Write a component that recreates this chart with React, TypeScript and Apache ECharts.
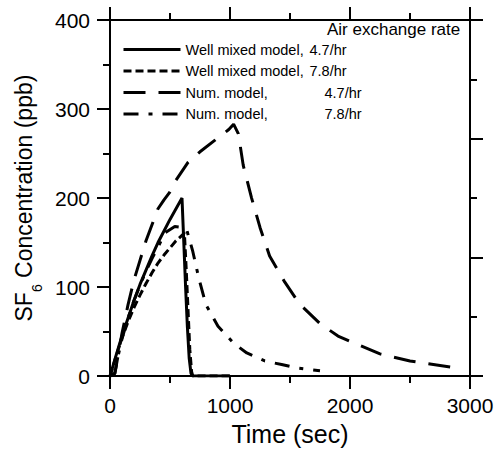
import React, { useEffect, useRef } from "react";
import * as echarts from "echarts";

// Well mixed model, 4.7/hr (solid)
const wm47Time = [0, 50, 100, 150, 200, 250, 300, 350, 400, 450, 500, 550, 600, 615, 630, 645, 660, 675, 690, 1000];
const wm47Conc = [0, 23, 45, 65, 85, 103, 119, 135, 150, 163, 176, 188, 200, 150, 100, 55, 20, 3, 0, 0];

// Well mixed model, 7.8/hr (short dash)
const wm78Time = [0, 50, 100, 150, 200, 250, 300, 350, 400, 450, 500, 550, 600, 620, 635, 650, 665, 680, 690, 1000];
const wm78Conc = [0, 22, 43, 61, 77, 91, 104, 116, 127, 136, 144, 152, 158, 161, 120, 75, 30, 5, 0, 0];

// Num. model, 4.7/hr (long dash)
const num47Time = [0, 40, 70, 100, 150, 200, 250, 300, 350, 400, 450, 500, 550, 650, 750, 875, 990, 1030, 1070, 1110, 1180, 1250, 1330, 1450, 1580, 1750, 1900, 2000, 2250, 2500, 2750, 2900];
const num47Conc = [0, 3, 25, 48, 80, 108, 130, 152, 170, 188, 198, 207, 220, 240, 252, 265, 277, 283, 272, 237, 200, 167, 135, 107, 81, 59, 45, 39, 25, 17, 12, 9];

// Num. model, 7.8/hr (dash-dot)
const num78Time = [0, 40, 70, 100, 150, 200, 250, 300, 350, 400, 460, 540, 600, 640, 690, 740, 800, 900, 1030, 1140, 1290, 1430, 1560, 1750];
const num78Conc = [0, 3, 24, 42, 65, 85, 102, 118, 132, 145, 161, 168, 167, 164, 140, 110, 80, 56, 37, 26, 17, 13, 9, 6];

const seriesNames = [
  "Well mixed model, 4.7/hr",
  "Well mixed model, 7.8/hr",
  "Num. model, 4.7/hr",
  "Num. model, 7.8/hr",
];

const xRange = { min: 0, max: 3000, interval: 1000 };
const yRange = { min: 0, max: 400, interval: 100 };
const rightRange = { min: 0, max: 3, interval: 1 };

const FONT = "'Liberation Sans', Arial, Helvetica, sans-serif";

function pairs(t: number[], c: number[]) {
  return t.map((v, i) => [v, c[i]]);
}

function axisLine() {
  return { show: true, onZero: false, lineStyle: { color: "#000", width: 2 } };
}
function axisTick() {
  return { show: true, inside: false, length: 13, lineStyle: { color: "#000", width: 2 } };
}
function minorTick() {
  return { show: true, splitNumber: 2, length: 7, lineStyle: { color: "#000", width: 2 } };
}

export default function App() {
  const ref = useRef<HTMLDivElement>(null);
  useEffect(() => {
    if (!ref.current) return;
    const chart = echarts.init(ref.current, undefined, { renderer: "svg" });
    const dashes: any[] = ["solid", [8, 4], [22, 13], [15, 10, 4, 10]];
    const data = [
      pairs(wm47Time, wm47Conc),
      pairs(wm78Time, wm78Conc),
      pairs(num47Time, num47Conc),
      pairs(num78Time, num78Conc),
    ];
    chart.setOption({
      animation: false,
      title: {
        text: "Air exchange rate",
        left: 327,
        top: 21,
        padding: 0,
        textStyle: { fontFamily: FONT, fontSize: 17, fontWeight: "normal", color: "#000" },
      },
      legend: {
        orient: "vertical",
        left: 122,
        top: 42,
        padding: 0,
        itemWidth: 57,
        itemHeight: 14,
        itemGap: 6.5,
        selectedMode: false,
        data: seriesNames,
        itemStyle: { opacity: 0 },
        lineStyle: { width: 3 },
        formatter: (name: string) => {
          const idx = name.indexOf(", ");
          const left = name.slice(0, idx + 1);
          const right = name.slice(idx + 2);
          const key = left.startsWith("Num") ? "n" : "w";
          return `{${key}|${left}}{v|${right}}`;
        },
        textStyle: {
          fontFamily: FONT,
          fontSize: 14.5,
          color: "#000",
          rich: {
            w: { fontFamily: FONT, fontSize: 14.5, color: "#000", width: 124 },
            n: { fontFamily: FONT, fontSize: 14.5, color: "#000", width: 139 },
            v: { fontFamily: FONT, fontSize: 14.5, color: "#000" },
          },
        },
      },
      grid: { left: 110, right: 30, top: 20, bottom: 71 },
      xAxis: [
        {
          type: "value",
          position: "bottom",
          ...xRange,
          axisLine: axisLine(),
          axisTick: axisTick(),
          minorTick: minorTick(),
          splitLine: { show: false },
          axisLabel: {
            fontFamily: FONT,
            fontSize: 21,
            color: "#000",
            margin: 19,
            formatter: (v: number) => String(v),
          },
          name: "Time (sec)",
          nameLocation: "middle",
          nameGap: 42,
          nameTextStyle: { fontFamily: FONT, fontSize: 25, color: "#000" },
        },
        {
          type: "value",
          position: "top",
          ...xRange,
          axisLine: axisLine(),
          axisTick: axisTick(),
          minorTick: minorTick(),
          splitLine: { show: false },
          axisLabel: { show: false },
        },
      ],
      yAxis: [
        {
          type: "value",
          position: "left",
          ...yRange,
          axisLine: axisLine(),
          axisTick: axisTick(),
          minorTick: minorTick(),
          splitLine: { show: false },
          axisLabel: {
            fontFamily: FONT,
            fontSize: 21,
            color: "#000",
            margin: 20,
            formatter: (v: number) => String(v),
          },
          name: "{a|SF}{s|6}{a| Concentration (ppb)}",
          nameLocation: "middle",
          nameGap: 64,
          nameTextStyle: {
            fontFamily: FONT,
            color: "#000",
            rich: {
              a: { fontFamily: FONT, fontSize: 23, color: "#000", lineHeight: 32, verticalAlign: "top" },
              s: { fontFamily: FONT, fontSize: 14, color: "#000", lineHeight: 13, verticalAlign: "bottom" },
            },
          },
        },
        {
          type: "value",
          position: "right",
          ...rightRange,
          axisLine: axisLine(),
          axisTick: axisTick(),
          minorTick: minorTick(),
          splitLine: { show: false },
          axisLabel: { show: false },
        },
      ],
      series: seriesNames.map((name, i) => ({
        name,
        type: "line",
        xAxisIndex: 0,
        yAxisIndex: 0,
        data: data[i],
        symbol: "none",
        showSymbol: false,
        lineStyle: { color: "#000", width: 3, type: dashes[i], cap: "butt" },
        itemStyle: { color: "#000" },
        z: 3,
      })),
    });
    return () => chart.dispose();
  }, []);
  return (
    <div
      ref={ref}
      style={{ position: "fixed", left: 0, top: 0, width: 500, height: 451, background: "#fff" }}
    />
  );
}
